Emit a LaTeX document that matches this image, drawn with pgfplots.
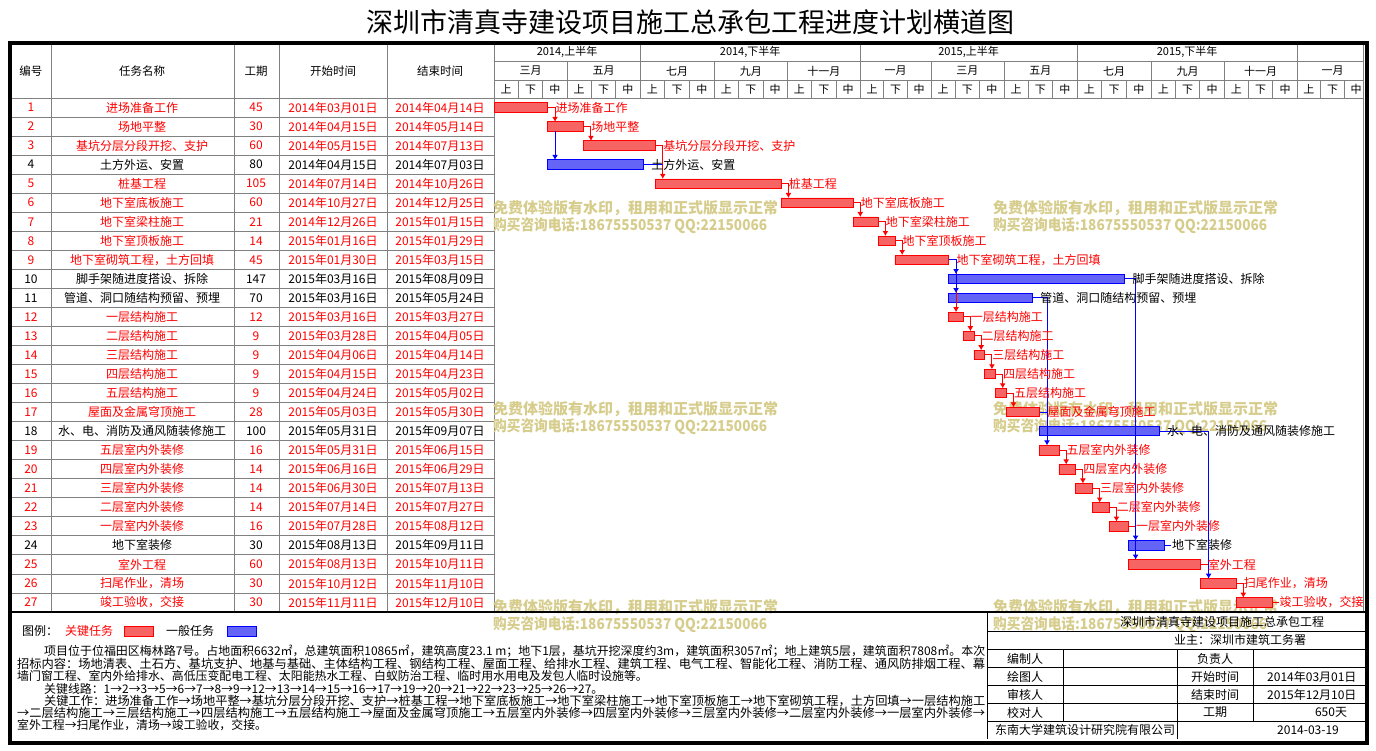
\documentclass[border=0pt]{standalone}
\usepackage{fontspec}
\setmainfont{Noto Sans CJK SC}
\usepackage{graphicx}
\usepackage{pgfplots}
\pgfplotsset{compat=1.18}
\usepackage{pgfplotstable}
\usetikzlibrary{arrows.meta}

\definecolor{crit}{RGB}{255,0,0}
\definecolor{critfill}{RGB}{246,100,100}
\definecolor{gen}{RGB}{0,0,255}
\definecolor{genfill}{RGB}{100,100,246}
\definecolor{gridgray}{RGB}{128,128,128}
\definecolor{wm}{RGB}{214,204,140}
\newcommand\fs[1]{\fontsize{#1}{#1}\selectfont}

% day 0 = 2014-03-01
\pgfplotstableread{
id start dur label
1 0 45 进场准备工作
2 45 30 场地平整
3 75 60 基坑分层分段开挖、支护
5 135 105 桩基工程
6 240 60 地下室底板施工
7 300 21 地下室梁柱施工
8 321 14 地下室顶板施工
9 335 45 地下室砌筑工程，土方回填
12 380 12 一层结构施工
13 392 9 二层结构施工
14 401 9 三层结构施工
15 410 9 四层结构施工
16 419 9 五层结构施工
17 428 28 屋面及金属穹顶施工
19 456 16 五层室内外装修
20 472 14 四层室内外装修
21 486 14 三层室内外装修
22 500 14 二层室内外装修
23 514 16 一层室内外装修
25 530 60 室外工程
26 590 30 扫尾作业，清场
27 620 30 竣工验收，交接
}\critical

\pgfplotstableread{
id start dur label
4 45 80 土方外运、安置
10 380 147 脚手架随进度搭设、拆除
11 380 70 管道、洞口随结构预留、预埋
18 456 100 水、电、消防及通风随装修施工
24 530 30 地下室装修
}\general

\pgfplotsset{
  gantt/.style={at={(494pt,653pt)}, anchor=north west, scale only axis,
    width=869pt, height=514pt, xmin=0, xmax=726, ymin=0.5, ymax=27.5,
    y dir=reverse, hide axis, clip=false},
  bars/.style={gantt, xbar stacked, bar width=9.5pt},
  lbl/.style={draw=none, nodes near coords, point meta=explicit symbolic,
    every node near coord/.append style={anchor=west, xshift=7pt,
      inner sep=0.5pt, font=\fs{12}, text=#1}},
  link/.style={line width=1pt, #1},
  arr/.style={-{Latex[length=5pt,width=6pt]}},
}

\begin{document}
\begin{tikzpicture}
\begin{scope}[x=1pt, y=-1pt, yshift=751pt]
\path (0,0) rectangle (1376,751);
% title
\node at (690,22) {\fs{27}深圳市清真寺建设项目施工总承包工程进度计划横道图};

% table grid
\begin{scope}[gridgray, line width=0.8pt]
  \foreach \k in {1,...,26} \draw (12,98+19.037*\k) -- (494,98+19.037*\k);
  \draw (12,98) -- (1363,98);
  \foreach \x in {51,234,279,387,494,1363} \draw (\x,43) -- (\x,612);
  \draw (494,61.5) -- (1363,61.5);
  \draw (494,80.5) -- (1363,80.5);
  \foreach \a in {122,306,487,671} \draw ({494+1.197*\a},43) -- ({494+1.197*\a},61.5);
  \foreach \a/\b in {0/61,61/122,122/184,184/245,245/306,306/365,365/426,426/487,487/549,549/610,610/671,671/730}{
    \draw ({494+1.197*\a},61.5) -- ({494+1.197*\a},98);
    \draw ({494+1.197*(\a+(\b-\a)/3)},80.5) -- ({494+1.197*(\a+(\b-\a)/3)},98);
    \draw ({494+1.197*(\a+2*(\b-\a)/3)},80.5) -- ({494+1.197*(\a+2*(\b-\a)/3)},98);
  }
\end{scope}

% header text
\begin{scope}[font=\fs{11.5}]
  \node at (31,71) {编号};
  \node at (142,71) {任务名称};
  \node at (256,71) {工期};
  \node at (333,71) {开始时间};
  \node at (440,71) {结束时间};
  \foreach \a/\b/\t in {0/122/{2014,上半年},122/306/{2014,下半年},306/487/{2015,上半年},487/671/{2015,下半年}}
    \node[font=\fs{11}] at ({494+1.197*(\a+\b)/2},52) {\t};
  \foreach \a/\b/\t in {0/61/三月,61/122/五月,122/184/七月,184/245/九月,245/306/十一月,306/365/一月,365/426/三月,426/487/五月,487/549/七月,549/610/九月,610/671/十一月,671/730/一月}{
    \node[font=\fs{11}] at ({494+1.197*(\a+\b)/2},71) {\t};
    \node[font=\fs{11}] at ({494+1.197*(\a+(\b-\a)/6)},89.5) {上};
    \node[font=\fs{11}] at ({494+1.197*(\a+(\b-\a)/2)},89.5) {下};
    \node[font=\fs{11}] at ({494+1.197*(\a+5*(\b-\a)/6)},89.5) {中};
  }
\end{scope}

% table rows
\foreach \i/\c/\n/\d/\s/\e in {
1/crit/进场准备工作/45/2014年03月01日/2014年04月14日,
2/crit/场地平整/30/2014年04月15日/2014年05月14日,
3/crit/基坑分层分段开挖、支护/60/2014年05月15日/2014年07月13日,
4/black/土方外运、安置/80/2014年04月15日/2014年07月03日,
5/crit/桩基工程/105/2014年07月14日/2014年10月26日,
6/crit/地下室底板施工/60/2014年10月27日/2014年12月25日,
7/crit/地下室梁柱施工/21/2014年12月26日/2015年01月15日,
8/crit/地下室顶板施工/14/2015年01月16日/2015年01月29日,
9/crit/地下室砌筑工程，土方回填/45/2015年01月30日/2015年03月15日,
10/black/脚手架随进度搭设、拆除/147/2015年03月16日/2015年08月09日,
11/black/管道、洞口随结构预留、预埋/70/2015年03月16日/2015年05月24日,
12/crit/一层结构施工/12/2015年03月16日/2015年03月27日,
13/crit/二层结构施工/9/2015年03月28日/2015年04月05日,
14/crit/三层结构施工/9/2015年04月06日/2015年04月14日,
15/crit/四层结构施工/9/2015年04月15日/2015年04月23日,
16/crit/五层结构施工/9/2015年04月24日/2015年05月02日,
17/crit/屋面及金属穹顶施工/28/2015年05月03日/2015年05月30日,
18/black/水、电、消防及通风随装修施工/100/2015年05月31日/2015年09月07日,
19/crit/五层室内外装修/16/2015年05月31日/2015年06月15日,
20/crit/四层室内外装修/14/2015年06月16日/2015年06月29日,
21/crit/三层室内外装修/14/2015年06月30日/2015年07月13日,
22/crit/二层室内外装修/14/2015年07月14日/2015年07月27日,
23/crit/一层室内外装修/16/2015年07月28日/2015年08月12日,
24/black/地下室装修/30/2015年08月13日/2015年09月11日,
25/crit/室外工程/60/2015年08月13日/2015年10月11日,
26/crit/扫尾作业，清场/30/2015年10月12日/2015年11月10日,
27/crit/竣工验收，交接/30/2015年11月11日/2015年12月10日}{
  \pgfmathsetmacro\yy{88.48+19.037*\i}
  \begin{scope}[text=\c, font=\fs{12}]
    \node at (31,\yy) {\i};
    \node at (142,\yy) {\n};
    \node at (256,\yy) {\d};
    \node at (333,\yy) {\s};
    \node at (440,\yy) {\e};
  \end{scope}
}

% watermarks
\foreach \wx/\wy in {493/208,993/208,493/409,993/409,493/607,993/607}{
  \node[anchor=west, inner sep=0, text=wm, font=\fs{15}\bfseries] at (\wx,\wy) {免费体验版有水印，租用和正式版显示正常};
  \node[anchor=west, inner sep=0, text=wm, font=\fs{15}\bfseries] at (\wx,\wy+18) {\scalebox{0.91}[1]{购买咨询电话:18675550537 QQ:22150066}};
}

% bottom separator
\draw[line width=1.5pt] (12,612) -- (1365,612);

% legend
\node[anchor=west, inner sep=0, font=\fs{12}] at (22,631) {图例：};
\node[anchor=west, inner sep=0, font=\fs{12}, text=crit] at (65,631) {关键任务};
\draw[crit, fill=critfill, line width=0.8pt] (124,626) rectangle (153,636);
\node[anchor=west, inner sep=0, font=\fs{12}] at (166,631) {一般任务};
\draw[gen, fill=genfill, line width=0.8pt] (227,626) rectangle (256,636);

% notes
\begin{scope}[font=\fs{11.9}]
  \node[anchor=west, inner sep=0] at (44,651) {\resizebox{941pt}{!}{项目位于位福田区梅林路7号。占地面积6632㎡，总建筑面积10865㎡，建筑高度23.1 m；地下1层，基坑开挖深度约3m，建筑面积3057㎡；地上建筑5层，建筑面积7808㎡。本次}};
  \node[anchor=west, inner sep=0] at (17,663.5) {\resizebox{968pt}{!}{招标内容：场地清表、土石方、基坑支护、地基与基础、主体结构工程、钢结构工程、屋面工程、给排水工程、建筑工程、电气工程、智能化工程、消防工程、通风防排烟工程、幕}};
  \node[anchor=west, inner sep=0] at (17,676) {墙门窗工程、室内外给排水、高低压变配电工程、太阳能热水工程、白蚁防治工程、临时用水用电及发包人临时设施等。};
  \node[anchor=west, inner sep=0] at (44,688.5) {关键线路：1→2→3→5→6→7→8→9→12→13→14→15→16→17→19→20→21→22→23→25→26→27。};
  \node[anchor=west, inner sep=0] at (44,700.5) {\resizebox{941pt}{!}{关键工作：进场准备工作→场地平整→基坑分层分段开挖、支护→桩基工程→地下室底板施工→地下室梁柱施工→地下室顶板施工→地下室砌筑工程，土方回填→一层结构施工}};
  \node[anchor=west, inner sep=0] at (17,712.5) {\resizebox{968pt}{!}{→二层结构施工→三层结构施工→四层结构施工→五层结构施工→屋面及金属穹顶施工→五层室内外装修→四层室内外装修→三层室内外装修→二层室内外装修→一层室内外装修→}};
  \node[anchor=west, inner sep=0] at (17,725) {室外工程→扫尾作业，清场→竣工验收，交接。};
\end{scope}

% title block
\begin{scope}[line width=0.8pt]
  \draw (987,612) -- (987,739);
  \foreach \y in {631,649.5,667.5,685.5,703.5,721.5} \draw (987,\y) -- (1365,\y);
  \draw (1063,649.5) -- (1063,721.5);
  \draw (1177.5,649.5) -- (1177.5,739);
  \draw (1253,649.5) -- (1253,721.5);
\end{scope}
\begin{scope}[font=\fs{12}]
  \node at (1222,621.5) {深圳市清真寺建设项目施工总承包工程};
  \node at (1240,640) {业主：深圳市建筑工务署};
  \node at (1025,658.5) {编制人};   \node at (1215,658.5) {负责人};
  \node at (1025,676.5) {绘图人};   \node at (1215,676.5) {开始时间};
  \node[anchor=east] at (1360,676.5) {2014年03月01日};
  \node at (1025,694.5) {审核人};   \node at (1215,694.5) {结束时间};
  \node[anchor=east] at (1360,694.5) {2015年12月10日};
  \node at (1025,712.5) {校对人};   \node at (1215,712.5) {工期};
  \node at (1331,712.5) {650天};
  \node at (1085,730) {东南大学建筑设计研究院有限公司};
  \node at (1308,730) {2014-03-19};
\end{scope}

% outer frame
\draw[line width=4.5pt] (10,43) rectangle (1367,743);
\end{scope}

% general (non-critical) tasks
\begin{axis}[bars]
  \addplot[draw=none, fill=none] table[x=start, y=id] {\general};
  \addplot[draw=gen, fill=genfill, line width=0.8pt] table[x=dur, y=id] {\general};
\end{axis}

% critical tasks
\begin{axis}[bars]
  \addplot[draw=none, fill=none] table[x=start, y=id] {\critical};
  \addplot[draw=crit, fill=critfill, line width=0.8pt] table[x=dur, y=id] {\critical};
\end{axis}

% labels and links
\begin{axis}[gantt]
  \addplot[lbl=black] table[x expr=\thisrow{start}+\thisrow{dur}, y=id, meta=label] {\general};
  \addplot[lbl=crit] table[x expr=\thisrow{start}+\thisrow{dur}, y=id, meta=label] {\critical};
  \addplot[link=crit, arr] coordinates {(45,1) (51,1) (51,1.75)};
  \addplot[link=crit, arr] coordinates {(75,2) (81,2) (81,2.75)};
  \addplot[link=crit, arr] coordinates {(135,3) (141,3) (141,4.75)};
  \addplot[link=crit, arr] coordinates {(240,5) (246,5) (246,5.75)};
  \addplot[link=crit, arr] coordinates {(300,6) (306,6) (306,6.75)};
  \addplot[link=crit, arr] coordinates {(321,7) (327,7) (327,7.75)};
  \addplot[link=crit, arr] coordinates {(335,8) (341,8) (341,8.75)};
  \addplot[link=crit, arr] coordinates {(380,9) (386,9) (386,11.75)};
  \addplot[link=crit, arr] coordinates {(392,12) (398,12) (398,12.75)};
  \addplot[link=crit, arr] coordinates {(401,13) (407,13) (407,13.75)};
  \addplot[link=crit, arr] coordinates {(410,14) (416,14) (416,14.75)};
  \addplot[link=crit, arr] coordinates {(419,15) (425,15) (425,15.75)};
  \addplot[link=crit, arr] coordinates {(428,16) (434,16) (434,16.75)};
  \addplot[link=crit, arr] coordinates {(472,19) (478,19) (478,19.75)};
  \addplot[link=crit, arr] coordinates {(486,20) (492,20) (492,20.75)};
  \addplot[link=crit, arr] coordinates {(500,21) (506,21) (506,21.75)};
  \addplot[link=crit, arr] coordinates {(514,22) (520,22) (520,22.75)};
  \addplot[link=crit] coordinates {(530,23) (536,23)};
  \addplot[link=crit] coordinates {(590,25) (597,25)};
  \addplot[link=crit, arr] coordinates {(620,26) (626,26) (626,26.75)};
  \addplot[link=crit] coordinates {(650,27) (656,27)};
  \addplot[link=gen, arr] coordinates {(51,2.25) (51,3.75)};
  \addplot[link=gen] coordinates {(125,4) (141,4)};
  \addplot[link=gen, arr] coordinates {(380,9) (386,9) (386,9.75)};
  \addplot[link=gen, arr] coordinates {(386,9.75) (386,10.75)};
  \addplot[link=gen, arr] coordinates {(527,10) (536,10) (536,23.75)};
  \addplot[link=gen, arr] coordinates {(536,23.75) (536,24.75)};
  \addplot[link=gen, arr] coordinates {(450,11) (462,11) (462,18.75)};
  \addplot[link=gen] coordinates {(456,17) (462,17)};
  \addplot[link=gen, arr] coordinates {(556,18) (597,18) (597,25.75)};
  \addplot[link=gen] coordinates {(560,24) (566,24)};
\end{axis}
\end{tikzpicture}
\end{document}
